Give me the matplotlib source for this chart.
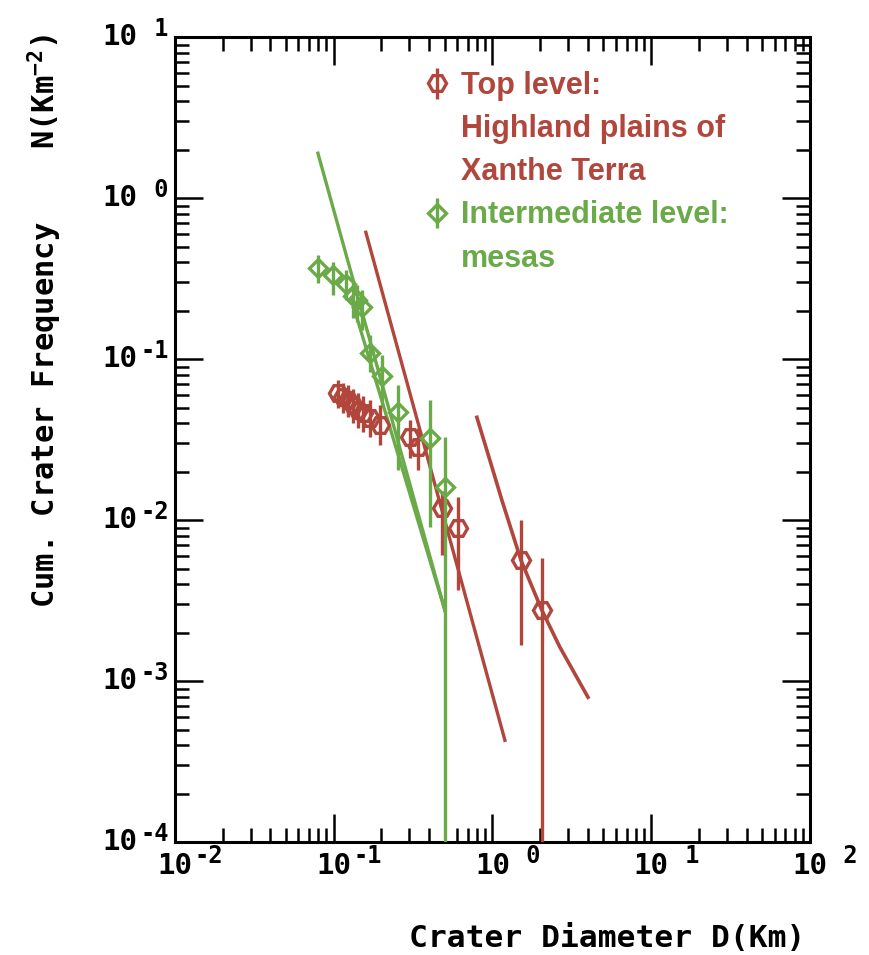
import numpy as np
import matplotlib
matplotlib.use('Agg')
import matplotlib.pyplot as plt
import matplotlib.transforms as mtransforms
from matplotlib.lines import Line2D
from matplotlib.ticker import LogLocator, NullFormatter

red = '#b0463c'
green = '#6aaa48'
mono = 'DejaVu Sans Mono'

# Top level: Highland plains of Xanthe Terra (D in km, cumulative N per km^2)
top_d = [0.1065, 0.1143, 0.1230, 0.132, 0.1422, 0.1528, 0.169, 0.1955, 0.302, 0.339, 0.481, 0.607, 1.513, 2.05]
top_n = [0.0615, 0.0581, 0.0556, 0.0518, 0.0482, 0.0462, 0.0430, 0.0389, 0.0328, 0.0284, 0.0119, 0.00891, 0.00565, 0.00276]
top_lo = [0.0496, 0.0462, 0.0436, 0.0400, 0.0372, 0.0352, 0.0328, 0.0292, 0.0243, 0.0205, 0.00606, 0.00367, 0.00167, 1e-6]
top_hi = [0.0741, 0.0709, 0.0690, 0.0651, 0.0615, 0.0589, 0.0556, 0.0518, 0.0418, 0.0372, 0.0153, 0.0139, 0.0101, 0.00580]

# Intermediate level: mesas
mesa_d = [0.0796, 0.0989, 0.1195, 0.132, 0.141, 0.1506, 0.169, 0.201, 0.254, 0.404, 0.502]
mesa_n = [0.367, 0.333, 0.292, 0.246, 0.232, 0.210, 0.110, 0.0784, 0.0469, 0.0323, 0.0160]
mesa_lo = [0.296, 0.250, 0.232, 0.180, 0.170, 0.151, 0.083, 0.0518, 0.0205, 0.00905, 1e-6]
mesa_hi = [0.443, 0.400, 0.357, 0.310, 0.290, 0.268, 0.141, 0.106, 0.069, 0.0556, 0.0328]

# fitted isochrons / production function
mesa_fit_d = [0.0796, 0.502]
mesa_fit_n = [1.905, 0.00276]
mesa_fit2_d = [0.130, 0.502]
mesa_fit2_n = [0.232, 0.00276]
top_fit_d = [0.1595, 1.199]
top_fit_n = [0.615, 0.00043]
top_curve_d = [0.798, 0.964, 1.148, 1.513, 2.05, 2.66, 4.0]
top_curve_n = [0.0436, 0.0236, 0.0133, 0.00565, 0.00276, 0.00163, 0.000796]

decades_x = [-2, -1, 0, 1, 2]
decades_y = [1, 0, -1, -2, -3, -4]

fig = plt.figure(figsize=(8.7, 9.55), dpi=100)
ax = fig.add_axes([0.201, 0.118, 0.73, 0.843])
ax.set_xscale('log')
ax.set_yscale('log')
ax.set_xlim(1e-2, 1e2)
ax.set_ylim(1e-4, 1e1)

# fit lines
ax.plot(mesa_fit_d, mesa_fit_n, color=green, lw=2.4, zorder=2)
ax.plot(mesa_fit2_d, mesa_fit2_n, color=green, lw=2.4, zorder=2)
ax.plot(top_fit_d, top_fit_n, color=red, lw=2.4, zorder=2)
ax.plot(top_curve_d, top_curve_n, color=red, lw=2.6, zorder=2, solid_joinstyle='round')

# data with error bars
top_n_a = np.array(top_n)
mesa_n_a = np.array(mesa_n)
h_top = ax.errorbar(top_d, top_n, yerr=[top_n_a - np.array(top_lo), np.array(top_hi) - top_n_a],
                    fmt='H', ms=13, mfc='none', mec=red, mew=2.4, ecolor=red,
                    elinewidth=2.4, capsize=0, zorder=3)
h_mesa = ax.errorbar(mesa_d, mesa_n, yerr=[mesa_n_a - np.array(mesa_lo), np.array(mesa_hi) - mesa_n_a],
                     fmt='D', ms=9.5, mfc='none', mec=green, mew=2.4, ecolor=green,
                     elinewidth=2.4, capsize=0, zorder=4)

# legend, one row per text line
blank = Line2D([], [], ls='none')
handles = [h_top, blank, blank, h_mesa, blank]
labels = ['Top level:', 'Highland plains of', 'Xanthe Terra', 'Intermediate level:', 'mesas']
leg = ax.legend(handles, labels, loc='upper left', bbox_to_anchor=(0.398, 0.958),
                frameon=False, handlelength=0.6, handletextpad=0.5, labelspacing=0.43,
                borderpad=0, borderaxespad=0,
                prop={'family': 'Liberation Sans', 'weight': 'bold', 'size': 22},
                labelcolor=[red, red, red, green, green])

# ticks
for side in ax.spines.values():
    side.set_linewidth(2.2)
ax.xaxis.set_minor_locator(LogLocator(base=10, subs=np.arange(2, 10), numticks=100))
ax.yaxis.set_minor_locator(LogLocator(base=10, subs=np.arange(2, 10), numticks=100))
ax.tick_params(which='both', direction='in', top=True, right=True, width=1.8,
               labelbottom=False, labelleft=False)
ax.tick_params(which='major', length=20)
ax.tick_params(which='minor', length=10)
ax.xaxis.set_minor_formatter(NullFormatter())
ax.yaxis.set_minor_formatter(NullFormatter())

# tick labels in the old plotter style: "10" plus a 2-character exponent field
tx = mtransforms.blended_transform_factory(ax.transData, ax.transAxes)
for e in decades_x:
    ax.text(10.0 ** e, -0.012, '10', transform=tx, ha='center', va='top',
            family=mono, weight='bold', fontsize=21)
    ax.annotate('%2d' % e, xy=(10.0 ** e, -0.012), xycoords=tx, xytext=(14, 6),
                textcoords='offset points', ha='left', va='top',
                family=mono, weight='bold', fontsize=17)
ty = mtransforms.blended_transform_factory(ax.transAxes, ax.transData)
for e in decades_y:
    ax.annotate('10', xy=(0, 10.0 ** e), xycoords=ty, xytext=(-27, 0),
                textcoords='offset points', ha='right', va='center',
                family=mono, weight='bold', fontsize=21)
    ax.annotate('%2d' % e, xy=(0, 10.0 ** e), xycoords=ty, xytext=(-25, 6),
                textcoords='offset points', ha='left', va='center',
                family=mono, weight='bold', fontsize=17)

plt.rcParams['mathtext.default'] = 'regular'
ax.set_ylabel('Cum. Crater Frequency    N(Km$^{-2}$)', family=mono, weight='bold', fontsize=22)
ax.yaxis.set_label_coords(-0.175, 0.648)
ax.set_xlabel('Crater Diameter D(Km)', family=mono, weight='bold', fontsize=22.5)
ax.xaxis.set_label_coords(0.68, -0.102)

fig.savefig('out.png', dpi=100)
